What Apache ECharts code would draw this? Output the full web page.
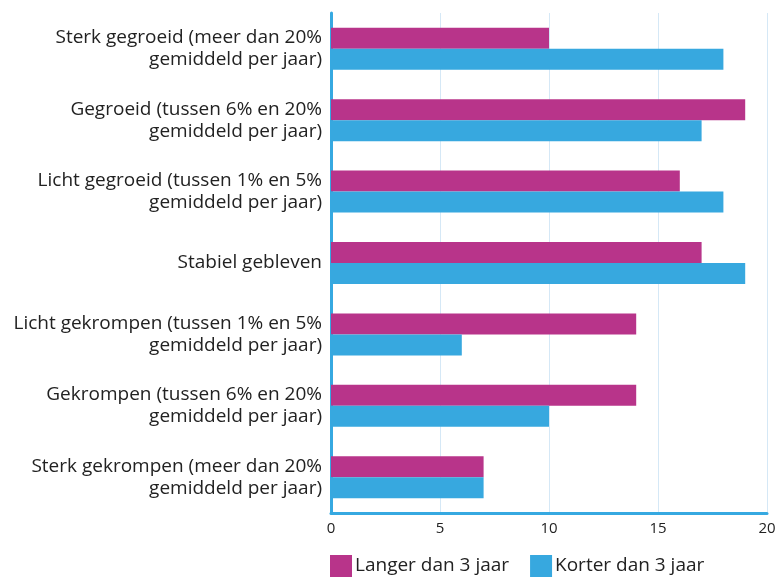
<!DOCTYPE html>
<html>
<head>
<meta charset="utf-8">
<script src="https://cdn.jsdelivr.net/npm/echarts@6/dist/echarts.min.js"></script>
<style>
html, body { margin: 0; padding: 0; background: #fff; }
#main { width: 780px; height: 579px; }
</style>
</head>
<body>
<div id="main"></div>
<script>
// categorieën (boven naar beneden)
var categories = [
	'Sterk gegroeid (meer dan 20%\ngemiddeld per jaar)',
	'Gegroeid (tussen 6% en 20%\ngemiddeld per jaar)',
	'Licht gegroeid (tussen 1% en 5%\ngemiddeld per jaar)',
	'Stabiel gebleven',
	'Licht gekrompen (tussen 1% en 5%\ngemiddeld per jaar)',
	'Gekrompen (tussen 6% en 20%\ngemiddeld per jaar)',
	'Sterk gekrompen (meer dan 20%\ngemiddeld per jaar)'
];
var langer = [10, 19, 16, 17, 14, 14, 7];
var korter = [18, 17, 18, 19, 6, 10, 7];
var seriesNames = ['Langer dan 3 jaar', 'Korter dan 3 jaar'];

var myChart = echarts.init(document.getElementById('main'));
var font = '"Open Sans", sans-serif';
option = {
	animation: false,
	textStyle: { fontFamily: font },
	legend: {
		data: seriesNames,
		left: 325,
		bottom: -3,
		itemWidth: 22,
		itemHeight: 22,
		itemGap: 21,
		icon: 'rect',
		textStyle: { fontSize: 19, color: '#222', fontFamily: font, padding: [0, 0, 0, -2] }
	},
	grid: {
		left: 331,
		right: 13,
		top: 13,
		bottom: 66
	},
	xAxis: {
		type: 'value',
		min: 0,
		max: 20,
		interval: 5,
		axisLine: { show: true, lineStyle: { color: '#36a9e1', width: 3 } },
		axisTick: { show: false },
		splitLine: { show: true, lineStyle: { color: '#d5e8f6', width: 1 } },
		axisLabel: { fontSize: 15, color: '#222', margin: 8, fontFamily: font }
	},
	yAxis: {
		type: 'category',
		inverse: true,
		data: categories,
		axisLine: { show: true, lineStyle: { color: '#36a9e1', width: 3 } },
		axisTick: { show: false },
		axisLabel: { fontSize: 19, color: '#222', margin: 9, align: 'right', lineHeight: 22, fontFamily: font }
	},
	series: [
		{
			name: seriesNames[0],
			type: 'bar',
			data: langer,
			barWidth: 21,
			barGap: '0%',
			itemStyle: { color: '#b8348a' }
		},
		{
			name: seriesNames[1],
			type: 'bar',
			data: korter,
			barWidth: 21,
			barGap: '0%',
			itemStyle: { color: '#37a8df' }
		}
	]
};
myChart.setOption(option);
window.onresize = myChart.resize;
</script>
</body>
</html>
